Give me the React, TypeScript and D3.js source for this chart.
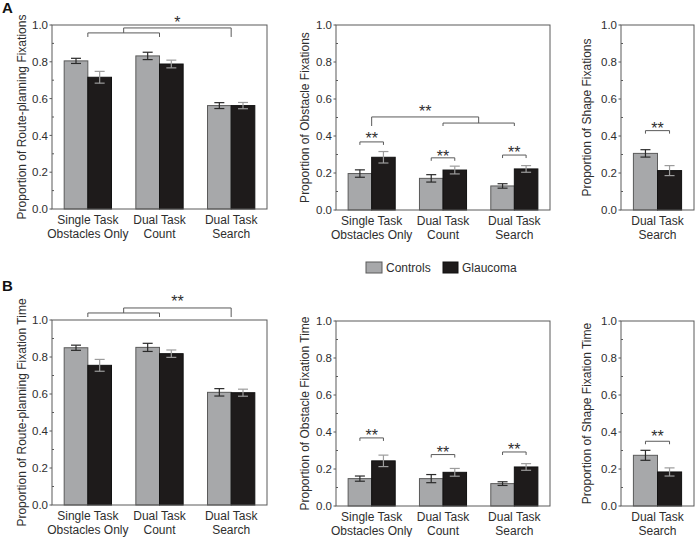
import React from "react";
import * as d3 from "d3";

// ---------- data ----------
const conditions = ["Single Task\nObstacles Only", "Dual Task\nCount", "Dual Task\nSearch"];
const searchOnly = ["Dual Task\nSearch"];
const series = ["Controls", "Glaucoma"];
const yTicks = [0, 0.2, 0.4, 0.6, 0.8, 1.0];
const yMinorTicks = [0.1, 0.3, 0.5, 0.7, 0.9];

// Panel A
const routeFixCtrl = [0.805, 0.832, 0.562];
const routeFixCtrlErr = [0.014, 0.02, 0.016];
const routeFixGlau = [0.716, 0.788, 0.562];
const routeFixGlauErr = [0.032, 0.021, 0.017];

const obsFixCtrl = [0.197, 0.171, 0.13];
const obsFixCtrlErr = [0.02, 0.02, 0.012];
const obsFixGlau = [0.285, 0.216, 0.222];
const obsFixGlauErr = [0.031, 0.021, 0.018];

const shapeFixCtrl = [0.306];
const shapeFixCtrlErr = [0.02];
const shapeFixGlau = [0.213];
const shapeFixGlauErr = [0.027];

// Panel B
const routeTimeCtrl = [0.85, 0.852, 0.609];
const routeTimeCtrlErr = [0.014, 0.022, 0.02];
const routeTimeGlau = [0.755, 0.818, 0.607];
const routeTimeGlauErr = [0.032, 0.02, 0.019];

const obsTimeCtrl = [0.148, 0.148, 0.121];
const obsTimeCtrlErr = [0.014, 0.022, 0.01];
const obsTimeGlau = [0.244, 0.182, 0.211];
const obsTimeGlauErr = [0.031, 0.021, 0.018];

const shapeTimeCtrl = [0.274];
const shapeTimeCtrlErr = [0.027];
const shapeTimeGlau = [0.184];
const shapeTimeGlauErr = [0.022];

// significance markers (levels in data units)
const obsFixPairs = [
  { group: 0, level: 0.368, star: 0.405 },
  { group: 1, level: 0.282, star: 0.31 },
  { group: 2, level: 0.297, star: 0.328 },
];
const shapeFixPairs = [{ group: 0, level: 0.429, star: 0.459 }];
const obsTimePairs = [
  { group: 0, level: 0.368, star: 0.4 },
  { group: 1, level: 0.278, star: 0.307 },
  { group: 2, level: 0.292, star: 0.325 },
];
const shapeTimePairs = [{ group: 0, level: 0.35, star: 0.392 }];

const routeFixNested = { pair: [0, 1], level: 0.957, drop: 0.935, link: 2, linkLevel: 0.984, star: 1.03, label: "*" };
const obsFixNested = { pair: [1, 2], level: 0.47, drop: 0.454, link: 0, linkLevel: 0.503, star: 0.551, label: "**" };
const routeTimeNested = { pair: [0, 1], level: 1.038, drop: 1.016, link: 2, linkLevel: 1.065, star: 1.119, label: "**" };

// ---------- style ----------
const FONT = "'Liberation Sans', Arial, Helvetica, sans-serif";
const TEXT = "#2e2e2e";
const FRAME = "#5a5a5a";
const CTRL_FILL = "#a7a8aa";
const GLAU_FILL = "#1e1b1b";

type Pair = { group: number; level: number; star: number };
type Nested = { pair: number[]; level: number; drop: number; link: number; linkLevel: number; star: number; label: string };

function Star({ x, y, label }: { x: number; y: number; label: string }) {
  return (
    <text x={x} y={y + 9} textAnchor="middle" fontSize={16} fontFamily={FONT} fill={TEXT}>
      {label}
    </text>
  );
}

function Panel(props: {
  left: number; right: number; top: number; bottom: number;
  cats: string[]; ctrl: number[]; ctrlErr: number[]; glau: number[]; glauErr: number[];
  title: string; titleOffset: number; pairs?: Pair[]; nested?: Nested;
}) {
  const { left, right, top, bottom, cats, ctrl, ctrlErr, glau, glauErr, title, titleOffset, pairs, nested } = props;
  const y = d3.scaleLinear().domain([0, 1]).range([bottom, top]);
  const x = d3.scaleBand<string>().domain(cats).range([left, right]);
  const sub = d3.scaleBand<string>().domain(series).range([0, x.bandwidth()]).paddingInner(0).paddingOuter(0.515);
  const bw = sub.bandwidth();
  const gc = (i: number) => (x(cats[i]) as number) + x.bandwidth() / 2;
  const sc = (i: number, s: string) => (x(cats[i]) as number) + (sub(s) as number) + bw / 2;
  const cap = 5;

  const vals = [
    { s: "Controls", v: ctrl, e: ctrlErr, fill: CTRL_FILL, stroke: "#5a5a5a", err: "#2a2a2a" },
    { s: "Glaucoma", v: glau, e: glauErr, fill: GLAU_FILL, stroke: "#111", err: "#9c9c9c" },
  ];

  return (
    <g>
      {vals.map((sv) =>
        cats.map((c, i) => (
          <rect key={sv.s + i} x={(x(c) as number) + (sub(sv.s) as number)} y={y(sv.v[i])}
            width={bw} height={y(0) - y(sv.v[i])} fill={sv.fill} stroke={sv.stroke} strokeWidth={1} />
        ))
      )}
      {vals.map((sv) =>
        cats.map((c, i) => {
          const cx = sc(i, sv.s);
          const y1 = y(sv.v[i] + sv.e[i]);
          const y2 = y(sv.v[i] - sv.e[i]);
          return (
            <g key={"e" + sv.s + i} stroke={sv.err} strokeWidth={1.2}>
              <line x1={cx} x2={cx} y1={y1} y2={y2} />
              <line x1={cx - cap} x2={cx + cap} y1={y1} y2={y1} />
              <line x1={cx - cap} x2={cx + cap} y1={y2} y2={y2} />
            </g>
          );
        })
      )}
      <rect x={left} y={top} width={right - left} height={bottom - top} fill="none" stroke={FRAME} strokeWidth={1} />
      {yTicks.map((t) => (
        <g key={"t" + t}>
          <line x1={left - 2.5} x2={left} y1={y(t)} y2={y(t)} stroke={FRAME} />
          <text x={left - 4} y={y(t) + 4.2} textAnchor="end" fontSize={11.5} fontFamily={FONT} fill={TEXT}>
            {d3.format(".1f")(t)}
          </text>
        </g>
      ))}
      {yMinorTicks.map((t) => (
        <line key={"m" + t} x1={left} x2={left + 2} y1={y(t)} y2={y(t)} stroke={FRAME} />
      ))}
      {cats.map((c, i) => (
        <text key={"x" + i} x={gc(i)} y={bottom + 15} textAnchor="middle" fontSize={12} fontFamily={FONT} fill={TEXT}>
          {c.split("\n").map((line, k) => (
            <tspan key={k} x={gc(i)} dy={k === 0 ? 0 : 13.5}>{line}</tspan>
          ))}
        </text>
      ))}
      <text transform={`translate(${left - titleOffset},${(top + bottom) / 2}) rotate(-90)`} textAnchor="middle"
        dominantBaseline="central" fontSize={12} fontFamily={FONT} fill={TEXT}>
        {title}
      </text>
      {(pairs || []).map((p, k) => {
        const x1 = sc(p.group, "Controls");
        const x2 = sc(p.group, "Glaucoma");
        const yy = y(p.level);
        return (
          <g key={"p" + k}>
            <path d={`M${x1},${yy + 3}V${yy}H${x2}V${yy + 3}`} fill="none" stroke={FRAME} strokeWidth={1} />
            <Star x={(x1 + x2) / 2} y={y(p.star)} label="**" />
          </g>
        );
      })}
      {nested && (() => {
        const a = gc(nested.pair[0]);
        const b = gc(nested.pair[1]);
        const m = (a + b) / 2;
        const k = gc(nested.link);
        return (
          <g>
            <path d={`M${a},${y(nested.drop)}V${y(nested.level)}H${b}V${y(nested.drop)}`} fill="none" stroke={FRAME} strokeWidth={1} />
            <path d={`M${m},${y(nested.level)}V${y(nested.linkLevel)}H${k}V${y(nested.drop)}`} fill="none" stroke={FRAME} strokeWidth={1} />
            <Star x={(m + k) / 2} y={y(nested.star)} label={nested.label} />
          </g>
        );
      })()}
    </g>
  );
}

export default function App() {
  return (
    <svg width={695} height={537} style={{ position: "absolute", left: 0, top: 0, background: "#fff" }}>
      <rect x={0} y={0} width={695} height={537} fill="#fff" />
      <text x={2} y={13} fontSize={15} fontWeight="bold" fontFamily={FONT} fill="#111">A</text>
      <text x={2} y={291} fontSize={15} fontWeight="bold" fontFamily={FONT} fill="#111">B</text>

      <Panel left={52} right={267} top={25} bottom={209} cats={conditions}
        ctrl={routeFixCtrl} ctrlErr={routeFixCtrlErr} glau={routeFixGlau} glauErr={routeFixGlauErr}
        title="Proportion of Route-planning Fixations" titleOffset={30} nested={routeFixNested} />
      <Panel left={336} right={550} top={25} bottom={210} cats={conditions}
        ctrl={obsFixCtrl} ctrlErr={obsFixCtrlErr} glau={obsFixGlau} glauErr={obsFixGlauErr}
        title="Proportion of Obstacle Fixations" titleOffset={31} pairs={obsFixPairs} nested={obsFixNested} />
      <Panel left={621} right={694} top={25} bottom={210} cats={searchOnly}
        ctrl={shapeFixCtrl} ctrlErr={shapeFixCtrlErr} glau={shapeFixGlau} glauErr={shapeFixGlauErr}
        title="Proportion of Shape Fixations" titleOffset={34} pairs={shapeFixPairs} />

      <Panel left={52} right={267} top={320} bottom={505} cats={conditions}
        ctrl={routeTimeCtrl} ctrlErr={routeTimeCtrlErr} glau={routeTimeGlau} glauErr={routeTimeGlauErr}
        title="Proportion of Route-planning Fixation Time" titleOffset={30} nested={routeTimeNested} />
      <Panel left={336} right={550} top={321} bottom={506} cats={conditions}
        ctrl={obsTimeCtrl} ctrlErr={obsTimeCtrlErr} glau={obsTimeGlau} glauErr={obsTimeGlauErr}
        title="Proportion of Obstacle Fixation Time" titleOffset={31} pairs={obsTimePairs} />
      <Panel left={621} right={694} top={321} bottom={506} cats={searchOnly}
        ctrl={shapeTimeCtrl} ctrlErr={shapeTimeCtrlErr} glau={shapeTimeGlau} glauErr={shapeTimeGlauErr}
        title="Proportion of Shape Fixation Time" titleOffset={34} pairs={shapeTimePairs} />

      <g fontFamily={FONT} fontSize={12} fill={TEXT}>
        <rect x={366} y={262} width={16} height={11} fill={CTRL_FILL} stroke="#5a5a5a" />
        <text x={386} y={271.5}>{series[0]}</text>
        <rect x={443} y={262} width={15} height={11} fill={GLAU_FILL} stroke="#111" />
        <text x={462} y={271.5}>{series[1]}</text>
      </g>
    </svg>
  );
}
